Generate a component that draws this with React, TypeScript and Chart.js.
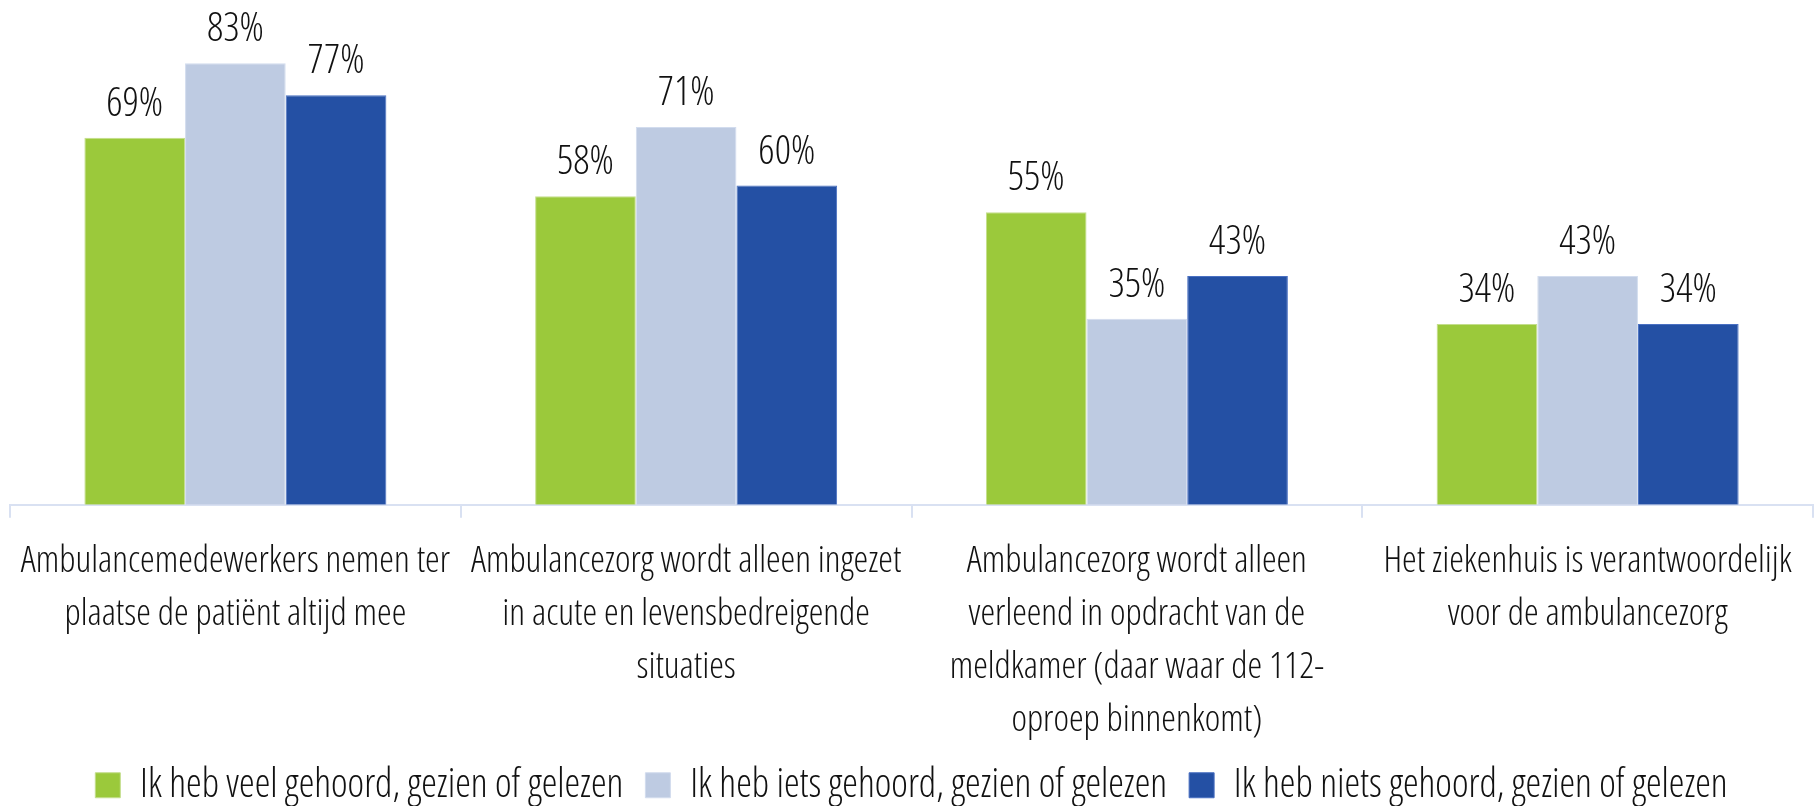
import React, { useEffect, useRef } from 'react';
import { Chart, registerables } from 'chart.js';

Chart.register(...registerables);

const categories: string[][] = [
  ['Ambulancemedewerkers nemen ter', 'plaatse de patiënt altijd mee'],
  ['Ambulancezorg wordt alleen ingezet', 'in acute en levensbedreigende', 'situaties'],
  ['Ambulancezorg wordt alleen', 'verleend in opdracht van de', 'meldkamer (daar waar de 112-', 'oproep binnenkomt)'],
  ['Het ziekenhuis is verantwoordelijk', 'voor de ambulancezorg'],
];

const seriesNames = [
  'Ik heb veel gehoord, gezien of gelezen',
  'Ik heb iets gehoord, gezien of gelezen',
  'Ik heb niets gehoord, gezien of gelezen',
];

const veelValues = [69, 58, 55, 34];
const ietsValues = [83, 71, 35, 43];
const nietsValues = [77, 60, 43, 34];

const FONT_FAMILY = "'Open Sans', 'Liberation Sans Narrow', sans-serif";
const FONT_WEIGHT = '300 condensed';
const FONT_SIZE = 37;
const LEGEND_FONT_SIZE = 39.5;
const LABEL_FONT_SIZE = 40;
const TEXT_COLOR = '#111111';

const dataLabelPlugin = {
  id: 'dataLabels',
  afterDatasetsDraw(chart: any) {
    const ctx = chart.ctx;
    ctx.save();
    ctx.font = `${FONT_WEIGHT} ${LABEL_FONT_SIZE}px ${FONT_FAMILY}`;
    ctx.fillStyle = TEXT_COLOR;
    ctx.textAlign = 'center';
    ctx.textBaseline = 'alphabetic';
    chart.data.datasets.forEach((ds: any, i: number) => {
      const meta = chart.getDatasetMeta(i);
      meta.data.forEach((bar: any, j: number) => {
        ctx.fillText(`${ds.data[j]}%`, bar.x, bar.y - 22);
      });
    });
    ctx.restore();
  },
};

export default function App() {
  const canvasRef = useRef<HTMLCanvasElement | null>(null);

  useEffect(() => {
    if (!canvasRef.current) return;
    const chart = new Chart(canvasRef.current, {
      type: 'bar',
      data: {
        labels: categories,
        datasets: [
          { label: seriesNames[0], data: veelValues, backgroundColor: '#9BC93B', borderColor: '#C4DE8C', borderWidth: 1 },
          { label: seriesNames[1], data: ietsValues, backgroundColor: '#BECBE2', borderColor: '#D2DCEE', borderWidth: 1 },
          { label: seriesNames[2], data: nietsValues, backgroundColor: '#2450A4', borderColor: '#4A70C2', borderWidth: 1 },
        ],
      },
      options: {
        animation: false,
        responsive: true,
        maintainAspectRatio: false,
        layout: { padding: { top: 26, left: 10, right: 4, bottom: -9 } },
        datasets: { bar: { categoryPercentage: 0.67, barPercentage: 1 } },
        plugins: {
          tooltip: { enabled: false },
          legend: {
            position: 'bottom',
            labels: {
              boxWidth: 25,
              boxHeight: 25,
              padding: 22,
              color: TEXT_COLOR,
              font: { family: FONT_FAMILY, size: LEGEND_FONT_SIZE, weight: FONT_WEIGHT as any },
            },
          },
        },
        scales: {
          x: {
            afterFit(scale: any) {
              scale.height = scale.height - 20;
            },
            grid: { offset: true, drawOnChartArea: false, tickLength: 13, color: '#D9E1F2', lineWidth: 2 },
            border: { color: '#D9E1F2', width: 2 },
            ticks: {
              color: TEXT_COLOR,
              padding: 17,
              maxRotation: 0,
              autoSkip: false,
              font: { family: FONT_FAMILY, size: FONT_SIZE, weight: FONT_WEIGHT as any, lineHeight: 1.43 },
            },
          },
          y: { display: false, min: 0, max: 90 },
        },
      },
      plugins: [dataLabelPlugin],
    });
    return () => chart.destroy();
  }, []);

  return (
    <div style={{ position: 'absolute', left: 0, top: 0, width: 1817, height: 806 }}>
      <canvas ref={canvasRef} />
    </div>
  );
}
